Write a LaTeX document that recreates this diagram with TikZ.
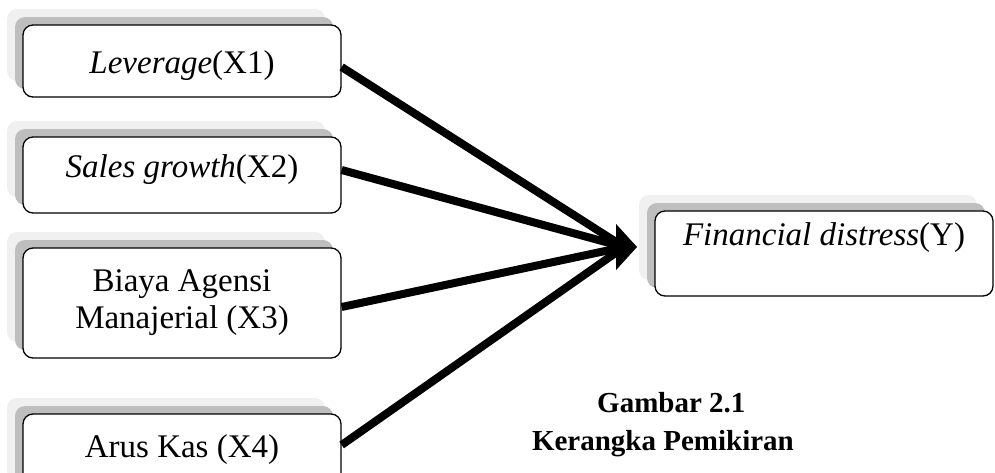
\documentclass[tikz,border=0pt]{standalone}
\usepackage{fontspec}
\setmainfont{Liberation Serif}
\usetikzlibrary{shadows,arrows.meta}
\definecolor{shadowlight}{HTML}{F0F0F0}
\definecolor{shadowdark}{HTML}{BEBEBE}
\begin{document}
\begin{tikzpicture}[x=1pt,y=-1pt,
  varbox/.style={draw=black, line width=1.3pt, rounded corners=10pt, fill=white,
    minimum width=318pt, inner ysep=0pt, inner xsep=4pt, align=center,
    font=\fontsize{33pt}{37pt}\selectfont,
    copy shadow={fill=shadowlight, draw=none, shadow xshift=-16pt, shadow yshift=16pt},
    copy shadow={fill=shadowdark, draw=none, shadow xshift=-8pt, shadow yshift=8pt}},
  link/.style={line width=8pt, black},
  headlink/.style={line width=1pt, black, -{Triangle[length=21pt,width=46pt]}},
  captext/.style={inner sep=0pt, font=\fontsize{29pt}{34pt}\selectfont\bfseries}]
\useasboundingbox (0,0) rectangle (995,472);
\clip (0,0) rectangle (995,472);

\node[varbox, text height=48pt, text depth=24pt] (b1) at (182,61) {\textit{Leverage}(X1)};
\node[varbox, text height=40pt, text depth=36pt] (b2) at (182,175) {\textit{Sales growth}(X2)};
\node[varbox, minimum height=110pt] (b3) at (182,303) {Biaya Agensi\\Manajerial (X3)};
\node[varbox, text height=43pt, text depth=40pt] (b4) at (182,455.5) {Arus Kas (X4)};
\node[varbox, minimum width=338pt, text height=34pt, text depth=51pt] (tgt) at (824,253.5) {\textit{Financial distress}(Y)};

\coordinate (hub) at (624,247);
\coordinate (tip) at (637,247);

\draw[link] ([yshift=-6pt]b1.east) -- (hub);
\draw[link] ([yshift=5pt]b2.east) -- (hub);
\draw[link] ([yshift=-4pt]b3.east) -- (hub);
\draw[link] ([yshift=10.5pt]b4.east) -- (hub);
\draw[headlink] (hub) -- (tip);

\node[captext, anchor=base west] (cap1) at (597,412) {Gambar 2.1};
\node[captext, anchor=base east] (cap2) at (794,450) {Kerangka Pemikiran};
\end{tikzpicture}
\end{document}
